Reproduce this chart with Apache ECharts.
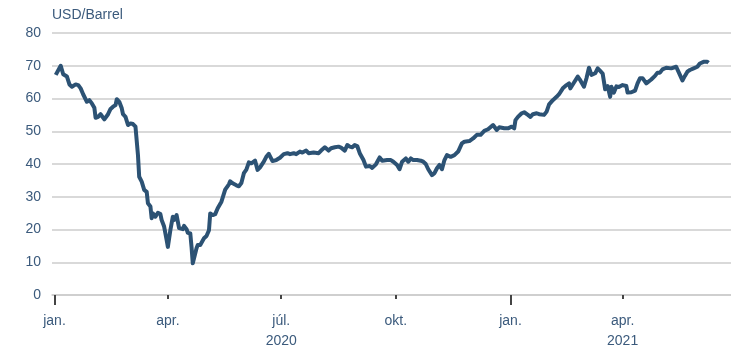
<!DOCTYPE html>
<html>
<head>
<meta charset="utf-8">
<script src="https://cdn.jsdelivr.net/npm/echarts@6/dist/echarts.min.js"></script>
<style>
html,body{margin:0;padding:0;background:#fff;}
#chart{width:731px;height:348px;}
</style>
</head>
<body>
<div id="chart"></div>
<script>
// Brent oil price, USD/Barrel
const dates = [
'2020-01-02','2020-01-06','2020-01-08','2020-01-11','2020-01-13','2020-01-15','2020-01-18','2020-01-20','2020-01-22','2020-01-24',
'2020-01-27','2020-01-29','2020-01-31','2020-02-02','2020-02-03','2020-02-05','2020-02-07','2020-02-08','2020-02-10','2020-02-13',
'2020-02-15','2020-02-17','2020-02-19','2020-02-20','2020-02-22','2020-02-24','2020-02-25','2020-02-27','2020-02-29','2020-03-02',
'2020-03-04','2020-03-06','2020-03-08','2020-03-09','2020-03-11','2020-03-13','2020-03-15','2020-03-16','2020-03-18','2020-03-19',
'2020-03-20','2020-03-22','2020-03-24','2020-03-26','2020-03-27','2020-03-29','2020-03-31','2020-04-01','2020-04-02','2020-04-03',
'2020-04-05','2020-04-06','2020-04-08','2020-04-09','2020-04-10','2020-04-13','2020-04-14','2020-04-16','2020-04-17','2020-04-19',
'2020-04-20','2020-04-21','2020-04-24','2020-04-25','2020-04-27','2020-04-30','2020-05-02','2020-05-04','2020-05-05','2020-05-07',
'2020-05-09','2020-05-11','2020-05-14','2020-05-17','2020-05-20','2020-05-21','2020-05-23','2020-05-26','2020-05-28','2020-05-30',
'2020-06-01','2020-06-03','2020-06-05','2020-06-07','2020-06-10','2020-06-12','2020-06-14','2020-06-17','2020-06-19','2020-06-21',
'2020-06-24','2020-06-27','2020-06-30','2020-07-03','2020-07-06','2020-07-08','2020-07-11','2020-07-13','2020-07-16','2020-07-18',
'2020-07-21','2020-07-23','2020-07-27','2020-07-31','2020-08-02','2020-08-05','2020-08-08','2020-08-10','2020-08-13','2020-08-16',
'2020-08-18','2020-08-21','2020-08-23','2020-08-25','2020-08-27','2020-08-29','2020-08-31','2020-09-02','2020-09-05','2020-09-07',
'2020-09-10','2020-09-12','2020-09-15','2020-09-18','2020-09-20','2020-09-24','2020-09-27','2020-09-29','2020-10-02','2020-10-04',
'2020-10-06','2020-10-09','2020-10-11','2020-10-13','2020-10-15','2020-10-18','2020-10-21','2020-10-23','2020-10-25','2020-10-27',
'2020-10-30','2020-11-01','2020-11-03','2020-11-05','2020-11-07','2020-11-09','2020-11-11','2020-11-14','2020-11-17','2020-11-20',
'2020-11-23','2020-11-25','2020-11-29','2020-12-02','2020-12-05','2020-12-08','2020-12-11','2020-12-14','2020-12-18','2020-12-21',
'2020-12-23','2020-12-27','2020-12-30','2021-01-02','2021-01-04','2021-01-05','2021-01-07','2021-01-10','2021-01-12','2021-01-15',
'2021-01-17','2021-01-19','2021-01-22','2021-01-24','2021-01-28','2021-01-30','2021-02-01','2021-02-04','2021-02-07','2021-02-09',
'2021-02-12','2021-02-15','2021-02-17','2021-02-18','2021-02-21','2021-02-24','2021-02-26','2021-03-01','2021-03-03','2021-03-05',
'2021-03-07','2021-03-10','2021-03-12','2021-03-14','2021-03-16','2021-03-18','2021-03-20','2021-03-22','2021-03-23','2021-03-25',
'2021-03-27','2021-03-29','2021-04-01','2021-04-04','2021-04-05','2021-04-08','2021-04-11','2021-04-13','2021-04-15','2021-04-17',
'2021-04-20','2021-04-21','2021-04-24','2021-04-27','2021-04-29','2021-05-01','2021-05-03','2021-05-06','2021-05-07','2021-05-10',
'2021-05-11','2021-05-14','2021-05-15','2021-05-17','2021-05-19','2021-05-21','2021-05-23','2021-05-25','2021-05-28','2021-05-31',
'2021-06-02','2021-06-05','2021-06-08','2021-06-09'
];
const prices = [
67.2,70.0,67.4,66.7,64.3,63.6,64.3,64.1,63.1,61.3,
59.0,59.5,58.5,57.2,54.1,54.4,55.2,54.7,53.6,55.2,
56.8,57.5,58.0,59.8,59.0,57.0,55.2,54.4,51.9,52.4,
52.2,51.4,42.7,36.1,34.6,32.1,31.5,28.0,27.0,23.4,
24.9,23.9,25.1,24.7,22.9,20.9,16.8,14.7,15.3,19.8,
23.9,22.9,24.4,24.7,20.4,20.1,21.1,20.1,19.0,18.8,
14.7,9.7,14.3,15.3,15.3,17.3,18.0,19.8,24.9,24.4,
24.7,26.5,28.5,32.2,33.8,34.7,34.1,33.5,33.2,34.2,
37.2,38.3,40.5,40.2,41.0,38.2,39.0,40.7,42.2,43.1,
40.9,41.2,41.9,43.0,43.3,43.0,43.3,43.0,43.8,43.5,
44.1,43.3,43.5,43.3,44.1,45.1,44.1,44.8,45.1,45.3,
45.0,44.1,45.8,45.3,45.1,45.8,45.5,43.3,41.2,39.2,
39.4,38.8,39.9,42.0,41.0,41.2,41.2,40.7,39.7,38.4,
40.7,41.7,40.7,41.7,41.2,41.2,41.0,40.7,40.0,38.4,
36.6,37.2,38.7,39.7,38.4,41.2,42.7,42.2,42.7,43.8,
46.3,46.8,47.0,47.8,48.9,48.9,50.1,50.6,51.9,50.4,
51.2,50.9,50.9,51.4,50.9,53.4,54.4,55.5,55.8,55.0,
54.4,55.2,55.5,55.2,55.0,56.0,58.2,59.5,60.5,61.3,
63.1,64.1,64.6,63.1,64.9,66.7,65.6,63.6,66.2,69.4,
67.2,67.7,69.2,68.4,67.6,62.8,63.8,60.5,63.6,61.8,
63.7,63.5,64.1,63.8,61.8,61.9,62.4,64.6,66.2,66.2,
64.6,65.1,65.8,66.9,67.9,67.9,68.9,69.4,68.9,69.2,
68.9,69.7,69.5,67.2,65.5,66.9,68.2,68.7,69.2,69.7,
70.7,71.2,71.2,70.9
];
const tickDates = ['2020-01-01','2020-04-01','2020-07-01','2020-10-01','2021-01-01','2021-04-01'];
const tickLabels = ['jan.','apr.','júl.\n2020','okt.','jan.','apr.\n2021'];
const yearTickDates = ['2020-01-01','2021-01-01'];
const unitLabel = 'USD/Barrel';

function ts(s){ const p = s.split('-').map(Number); return Date.UTC(p[0], p[1]-1, p[2]); }
const labelMap = {};
tickDates.forEach((d,i)=>{ labelMap[ts(d)] = tickLabels[i]; });
const textColor = '#3b5a7c';
const fontFam = 'Liberation Sans, Arial, sans-serif';
const xMin = ts('2019-12-30');
const xMax = ts('2021-06-27');

const chart = echarts.init(document.getElementById('chart'), null, {renderer:'canvas'});
chart.setOption({
  animation:false,
  grid:{left:52,right:0,top:33,bottom:53,containLabel:false,outerBoundsMode:'none'},
  xAxis:[{
    type:'value', min:xMin, max:xMax, scale:true,
    axisLine:{show:true,lineStyle:{color:'#cccccc',width:1.5}},
    axisTick:{show:true,customValues:tickDates.filter(d=>yearTickDates.indexOf(d)<0).map(ts),length:4,lineStyle:{color:'#444',width:2}},
    axisLabel:{show:true,customValues:tickDates.map(ts),formatter:v=>labelMap[v]||'',color:textColor,fontSize:14,fontFamily:fontFam,margin:16,lineHeight:20,align:'center'},
    splitLine:{show:false}
  },{
    type:'value', min:xMin, max:xMax, scale:true, position:'bottom',
    axisLine:{show:false},
    axisTick:{show:true,customValues:yearTickDates.map(ts),length:10,lineStyle:{color:'#444',width:2}},
    axisLabel:{show:false},
    splitLine:{show:false}
  }],
  yAxis:{
    type:'value', min:0, max:80, interval:10,
    name:unitLabel, nameLocation:'end', nameGap:18,
    nameTextStyle:{color:textColor,fontSize:14,fontFamily:fontFam,align:'left',verticalAlign:'middle'},
    axisLine:{show:false}, axisTick:{show:false},
    axisLabel:{color:textColor,fontSize:14,fontFamily:fontFam,margin:11},
    splitLine:{lineStyle:{color:'#cccccc',width:1.5}}
  },
  series:[{
    type:'line', xAxisIndex:0,
    data:dates.map((d,i)=>[ts(d),prices[i]]),
    showSymbol:false, symbol:'none',
    lineStyle:{color:'#2c5274',width:4,join:'round'},
    z:3
  }]
});
</script>
</body>
</html>
